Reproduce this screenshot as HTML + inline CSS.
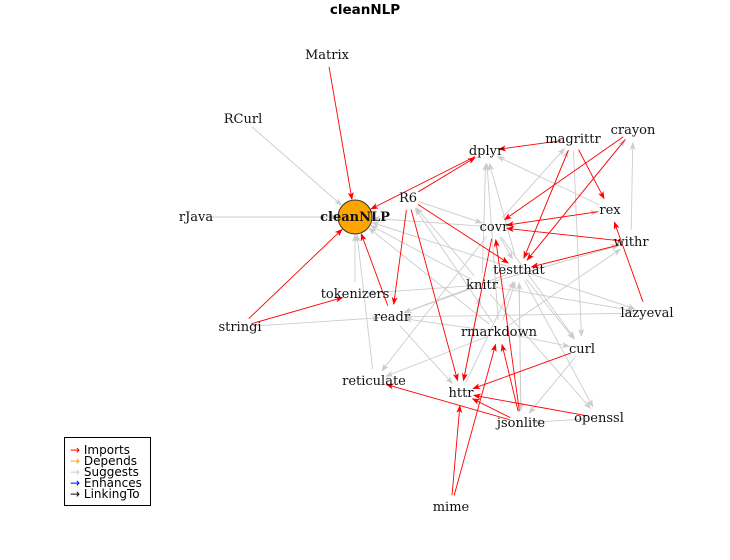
<!DOCTYPE html>
<html><head><meta charset="utf-8"><style>
body{margin:0;background:#fff}
svg{display:block}
.lbl{font-family:"DejaVu Serif","Liberation Serif",serif;font-size:13px;fill:#111}
</style></head><body>
<svg id="chart" width="730" height="560" xmlns="http://www.w3.org/2000/svg">
<defs>
<marker id="ar-red" markerWidth="8" markerHeight="6" refX="7" refY="3" orient="auto" markerUnits="userSpaceOnUse"><path d="M0,0 L8,3 L0,6 L2,3z" fill="#ff0000"/></marker>
<marker id="ar-gray" markerWidth="8" markerHeight="6" refX="7" refY="3" orient="auto" markerUnits="userSpaceOnUse"><path d="M0,0 L8,3 L0,6 L2,3z" fill="#cccccc"/></marker>
</defs>
<text x="365" y="14" text-anchor="middle" font-family="DejaVu Sans,Liberation Sans,sans-serif" font-weight="bold" font-size="13.5">cleanNLP</text>
<g id="edges"></g>
<g id="nodes"></g>
<g>
<rect x="64.5" y="437.5" width="86" height="68" fill="#fff" stroke="#000" stroke-width="1"/>
<g font-family="DejaVu Sans,Liberation Sans,sans-serif" font-size="12" fill="#000">
<text x="70" y="454"><tspan fill="#ff0000">→</tspan> Imports</text>
<text x="70" y="465"><tspan fill="#ffa500">→</tspan> Depends</text>
<text x="70" y="476"><tspan fill="#cccccc">→</tspan> Suggests</text>
<text x="70" y="487"><tspan fill="#0000ff">→</tspan> Enhances</text>
<text x="70" y="498"><tspan fill="#000">→</tspan> LinkingTo</text>
</g></g>
</svg>
<script>
const nodeNames=["cleanNLP","Matrix","RCurl","rJava","stringi","tokenizers","readr","reticulate","R6","dplyr","magrittr","crayon","rex","withr","covr","testthat","knitr","lazyeval","rmarkdown","curl","httr","jsonlite","openssl","mime"];
const nodeX=[355,327,243,196,240,355,392,374,408,486,573,633,610,631,494,519,482,647,499,582,461,521,599,451];
const nodeY=[217,55,119,217,327,294,317,381,198,151,139,130,210,242,227,270,285,313,332,349,393,423,418,507];
const importEdges=[["Matrix","cleanNLP"],["stringi","cleanNLP"],["stringi","tokenizers"],["dplyr","cleanNLP"],["R6","dplyr"],["readr","cleanNLP"],["R6","readr"],["R6","httr"],["magrittr","dplyr"],["magrittr","rex"],["crayon","covr"],["crayon","testthat"],["magrittr","testthat"],["R6","testthat"],["rex","covr"],["withr","covr"],["withr","testthat"],["lazyeval","rex"],["jsonlite","covr"],["jsonlite","rmarkdown"],["curl","httr"],["openssl","httr"],["jsonlite","httr"],["jsonlite","reticulate"],["mime","httr"],["mime","rmarkdown"],["covr","httr"]];
const suggestEdges=[["RCurl","cleanNLP"],["rJava","cleanNLP"],["tokenizers","cleanNLP"],["reticulate","cleanNLP"],["knitr","cleanNLP"],["testthat","cleanNLP"],["covr","cleanNLP"],["rmarkdown","cleanNLP"],["R6","covr"],["knitr","R6"],["rmarkdown","R6"],["knitr","dplyr"],["testthat","dplyr"],["rmarkdown","dplyr"],["rex","dplyr"],["covr","magrittr"],["testthat","magrittr"],["withr","crayon"],["testthat","crayon"],["covr","rex"],["knitr","withr"],["rmarkdown","withr"],["testthat","withr"],["covr","testthat"],["knitr","readr"],["rmarkdown","readr"],["knitr","tokenizers"],["rmarkdown","reticulate"],["covr","reticulate"],["testthat","readr"],["knitr","lazyeval"],["testthat","lazyeval"],["magrittr","curl"],["testthat","curl"],["covr","curl"],["knitr","httr"],["readr","httr"],["testthat","jsonlite"],["knitr","openssl"],["testthat","openssl"],["rmarkdown","curl"],["jsonlite","testthat"],["httr","knitr"],["openssl","jsonlite"],["curl","jsonlite"],["lazyeval","readr"],["httr","testthat"],["rmarkdown","testthat"],["stringi","readr"]];
const NS="http://www.w3.org/2000/svg";
const eg=document.getElementById('edges'),ng=document.getElementById('nodes');
function pos(n){const i=nodeNames.indexOf(n);return [nodeX[i],nodeY[i]];}
function drawEdges(list,color,marker,name){
  list.forEach(e=>{
    const [x1,y1]=pos(e[0]),[x2,y2]=pos(e[1]);
    const dx=x2-x1,dy=y2-y1,L=Math.hypot(dx,dy);
    const s=e[0]==="cleanNLP"?19:12,t=e[1]==="cleanNLP"?18:13;
    const l=document.createElementNS(NS,'line');
    l.setAttribute('x1',x1+dx*s/L);l.setAttribute('y1',y1+dy*s/L);
    l.setAttribute('x2',x2-dx*t/L);l.setAttribute('y2',y2-dy*t/L);
    l.setAttribute('stroke',color);l.setAttribute('stroke-width','0.9');
    l.setAttribute('marker-end','url(#'+marker+')');
    
    
    eg.appendChild(l);
  });
}
drawEdges(suggestEdges,'#cccccc','ar-gray','suggests-edge');
drawEdges(importEdges,'#ff0000','ar-red','imports-edge');
const c=document.createElementNS(NS,'circle');
c.setAttribute('cx',355);c.setAttribute('cy',217);c.setAttribute('r',17);
c.setAttribute('fill','#ffa500');c.setAttribute('stroke','#333');


ng.appendChild(c);
nodeNames.forEach((n,i)=>{
  const t=document.createElementNS(NS,'text');
  t.setAttribute('x',nodeX[i]);t.setAttribute('y',nodeY[i]+4);
  t.setAttribute('text-anchor','middle');t.setAttribute('class','lbl');
  if(n==="cleanNLP")t.setAttribute('font-weight','bold');
  t.textContent=n;
  
  
  ng.appendChild(t);
});
</script>
</body></html>
